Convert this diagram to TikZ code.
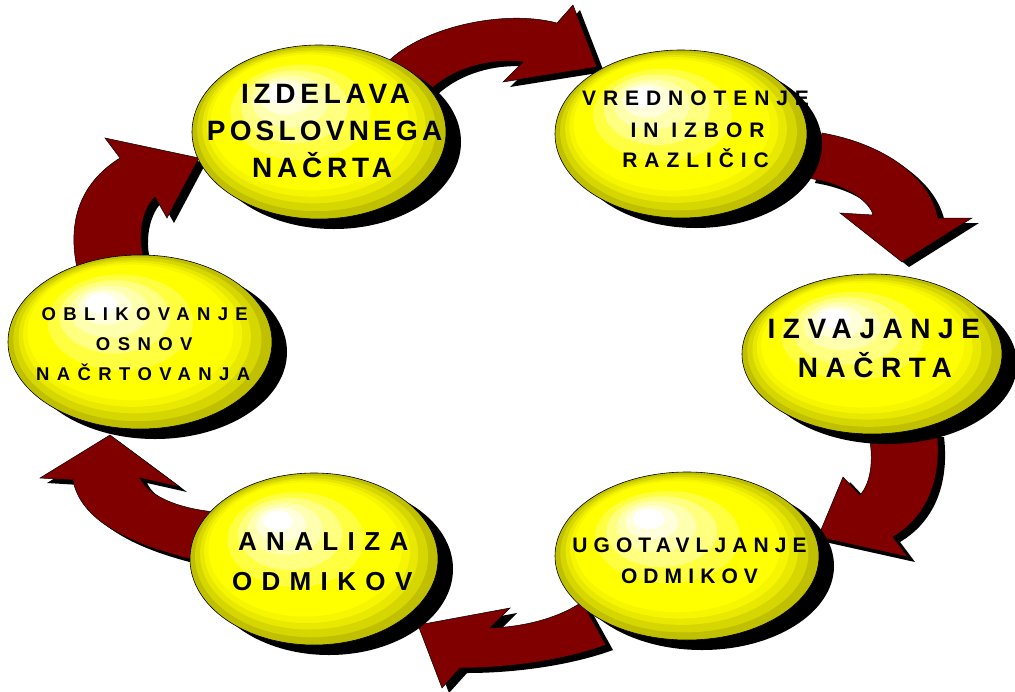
\documentclass[tikz,border=0pt]{standalone}
\usepackage{fontspec}
\setsansfont{Liberation Sans}
\usetikzlibrary{shapes.geometric,shadows}

\definecolor{arrowred}{RGB}{128,0,0}
\definecolor{yb1}{RGB}{192,192,0}
\definecolor{yb2}{RGB}{214,214,0}
\definecolor{yb3}{RGB}{232,232,0}
\definecolor{yb4}{RGB}{246,246,0}
\definecolor{yb5}{RGB}{255,255,0}
\definecolor{yb6}{RGB}{255,255,64}
\definecolor{yb7}{RGB}{255,255,128}
\definecolor{yb8}{RGB}{255,255,176}
\definecolor{yb9}{RGB}{255,255,220}
\definecolor{yb10}{RGB}{255,255,255}

\tikzset{
  ballshadow/.style={fill=black},
  ballrim/.style={ellipse, draw=black, line width=0.6pt, inner sep=0pt, outer sep=0pt},
  blockarrow/.style={fill=arrowred, draw=black, line width=0.5pt, line join=miter,
    drop shadow={shadow xshift=7pt, shadow yshift=-5pt, opacity=1, fill=black, draw=none}},
  lbl/.style 2 args={anchor=base, inner sep=0pt, text=black,
    font=\sffamily\bfseries\fontsize{#1}{#1}\selectfont\addfontfeature{LetterSpace=#2}},
}

% yellow glossy ellipse: name, centre x, centre y (downwards), x radius, y radius
\newcommand\yellowball[5]{%
  \fill[ballshadow] (#2+15,-#3-10) ellipse [x radius=#4, y radius=#5];
  \foreach \s/\c in {1/yb1,0.94/yb2,0.88/yb3,0.83/yb4,0.78/yb5,0.55/yb6,0.42/yb7,0.3/yb8,0.2/yb9,0.12/yb10}{%
    \fill[\c] ({#2-(1-\s)*0.33*#4},{-#3+(1-\s)*0.5*#5}) ellipse [x radius={\s*#4}, y radius={\s*#5}];
  }
  \node[ballrim, minimum width=2*#4, minimum height=2*#5] (#1) at (#2,-#3) {};
}

\begin{document}
\begin{tikzpicture}[x=1pt,y=1pt]
\useasboundingbox (0,0) rectangle (1015,-691);

% curved block arrows (drawn first, the ellipses overlap their tails)
\draw[blockarrow] (385,-65) .. controls (415,-30) and (500,-8) .. (557,-23)
  -- (573,-5) -- (597,-67) -- (503,-82) -- (523,-62)
  .. controls (490,-58) and (450,-68) .. (425,-95) -- cycle;

\draw[blockarrow] (822,-133) .. controls (880,-143) and (930,-175) .. (938,-218)
  -- (972,-218) -- (902,-262) -- (840,-213) -- (873,-215)
  .. controls (870,-203) and (850,-185) .. (808,-178) -- cycle;

\draw[blockarrow] (937,-432) .. controls (942,-475) and (930,-515) .. (893,-537)
  -- (908,-557) -- (818,-537) -- (843,-477) -- (860,-495)
  .. controls (872,-482) and (874,-455) .. (868,-432) -- cycle;

\draw[blockarrow] (582,-602) -- (606,-645) .. controls (565,-660) and (510,-668) .. (460,-668)
  -- (442,-688) -- (418,-625) -- (510,-608) -- (490,-628)
  .. controls (520,-627) and (555,-620) .. (582,-602) -- cycle;

\draw[blockarrow] (215,-512) -- (195,-560) .. controls (130,-545) and (80,-520) .. (73,-480)
  -- (40,-478) -- (110,-435) -- (180,-487) -- (140,-478)
  .. controls (148,-495) and (175,-508) .. (215,-512) -- cycle;

\draw[blockarrow] (77,-268) .. controls (66,-215) and (85,-180) .. (120,-158)
  -- (105,-138) -- (199,-158) -- (167,-218) -- (155,-197)
  .. controls (140,-212) and (136,-245) .. (148,-268) -- cycle;

% ellipses
\yellowball{e1}{319}{132}{127}{87}
\yellowball{e2}{681}{134}{126}{84}
\yellowball{e3}{872}{354}{130}{80}
\yellowball{e4}{687}{556}{132}{84}
\yellowball{e5}{314}{559}{124}{86}
\yellowball{e6}{140}{342}{132}{87}

% labels
\node[lbl={28}{17}] (t1a) at (325.6,-103) {IZDELAVA};
\node[lbl={28}{15}] (t1b) at (324.6,-140) {POSLOVNEGA};
\node[lbl={28}{17}] (t1c) at (322.1,-177) {NAČRTA};

\node[lbl={21}{33}] (t2a) at (695.6,-105) {VREDNOTENJE};
\node[lbl={21}{33}] (t2b) at (697.6,-137) {IN IZBOR};
\node[lbl={21}{33}] (t2c) at (695.6,-167) {RAZLIČIC};

\node[lbl={28}{27}] (t3a) at (873.8,-338) {IZVAJANJE};
\node[lbl={28}{27}] (t3b) at (874.8,-377) {NAČRTA};

\node[lbl={21}{29}] (t4a) at (689.5,-552) {UGOTAVLJANJE};
\node[lbl={21}{29}] (t4b) at (689.5,-583) {ODMIKOV};

\node[lbl={26}{36}] (t5a) at (323.2,-550) {ANALIZA};
\node[lbl={26}{36}] (t5b) at (322.2,-590) {ODMIKOV};

\node[lbl={18.5}{40}] (t6a) at (144.7,-320) {OBLIKOVANJE};
\node[lbl={18.5}{40}] (t6b) at (144.2,-350) {OSNOV};
\node[lbl={18.5}{40}] (t6c) at (143.2,-380) {NAČRTOVANJA};
\end{tikzpicture}
\end{document}
